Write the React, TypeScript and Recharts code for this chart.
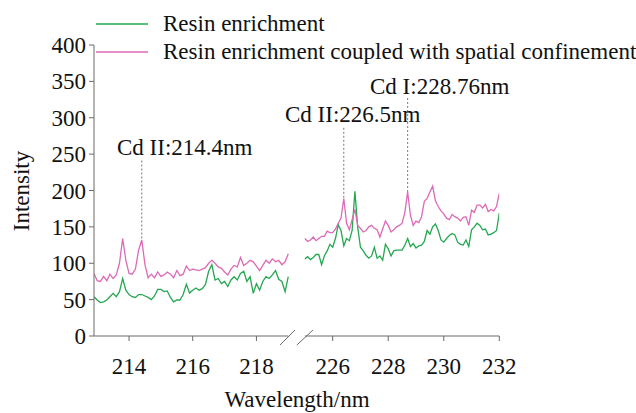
import React from 'react';
import { LineChart, Line, XAxis, YAxis, ReferenceLine } from 'recharts';

// wavelength grid (nm): spectrometer sampling
const leftStart = 212.9;
const rightStart = 225.0;
const stepNm = 0.1;

// Resin enrichment (green)
const greenLeft = [
  54, 49.5, 46, 47, 49.5, 54, 58.6, 54, 61, 79, 63, 57, 54, 53, 57, 57, 55, 53, 50, 55,
  64, 64, 61, 62, 53, 47, 49.5, 49.5, 57, 71, 59, 63, 66, 63, 65, 71, 89, 98, 77, 79,
  72, 75, 68, 77, 81.5, 77, 86, 89, 75, 81.5, 58.6, 72, 63, 75, 81.5, 79, 84, 90, 78, 75,
  61, 81.5,
];
const greenRight = [
  106, 109, 105, 108, 112, 112, 98, 110, 117, 126,
  122, 134, 153, 145, 124, 134, 131, 145, 199, 150,
  122, 117, 111, 107, 110, 122, 107, 110, 104, 126,
  120, 110, 117, 118, 118, 118, 125, 134, 123, 127,
  121, 124, 125, 130, 145, 140, 150, 154, 145, 132,
  129, 134, 138, 141, 139, 129, 126, 125, 132, 123,
  146, 150, 155, 152, 146, 147, 139, 140, 142, 145,
  169,
];
// Resin enrichment coupled with spatial confinement (pink)
const pinkLeft = [
  86, 76, 75, 82, 76, 85, 79, 84, 100, 134, 104, 86, 85, 92, 118, 132, 98, 80, 85, 80,
  88, 82, 84, 88, 85, 80, 90, 83, 85, 96, 90, 92, 91, 90, 92, 94, 100, 104, 100, 95,
  93, 88, 84, 92, 97, 95, 108, 97, 100, 104, 102, 96, 90, 97, 104, 100, 106, 102, 104, 98,
  102, 113,
];
const pinkRight = [
  134, 130, 132, 136, 131, 134, 137, 137, 144, 142,
  142, 147, 155, 162, 189, 155, 146, 160, 174, 152,
  148, 143, 145, 150, 152, 148, 146, 136, 147, 158,
  152, 143, 146, 150, 152, 155, 170, 198, 166, 152,
  158, 156, 164, 185, 189, 198, 206, 186, 178, 172,
  168, 162, 160, 167, 164, 162, 158, 163, 164, 152,
  173, 170, 180, 180, 176, 181, 171, 174, 172, 178,
  196,
];

const leftTicks = [214, 216, 218];
const rightTicks = [226, 228, 230, 232];
const yTicks = [0, 50, 100, 150, 200, 250, 300, 350, 400];
const seriesNames = ['Resin enrichment', 'Resin enrichment coupled with spatial confinement'];
const peakLabels = ['Cd II:214.4nm', 'Cd II:226.5nm', 'Cd I:228.76nm'];
const peakLines = [214.4, 226.4, 228.7];

const GREEN = '#24a750';
const PINK = '#dc6ab7';
const AXIS = '#6a6a6a';
const FONT = 'Liberation Serif';
const FS = 23;

const toRows = (start: number, green: number[], pink: number[]) =>
  green.map((g, i) => ({ w: Math.round((start + i * stepNm) * 100) / 100, g, p: pink[i] }));

const leftRows = toRows(leftStart, greenLeft, pinkLeft);
const rightRows = toRows(rightStart, greenRight, pinkRight);

// axis domains chosen so both broken-axis segments share one plot area
const leftDomain: [number, number] = [212.9, 225.626];
const rightDomain: [number, number] = [217.405, 232];

const textStyle: React.CSSProperties = {
  position: 'absolute', fontFamily: FONT, fontSize: FS, color: '#111', whiteSpace: 'nowrap', lineHeight: '28px',
};

const XTick = (props: any) => {
  const { x, y, payload } = props;
  return (
    <text x={x} y={y} dy={16} textAnchor="middle" fill="#111" style={{ fontFamily: FONT, fontSize: FS }}>
      {payload.value}
    </text>
  );
};

const YTick = (props: any) => {
  const { x, y, payload } = props;
  return (
    <text x={x} y={y} dy={8} textAnchor="end" fill="#111" style={{ fontFamily: FONT, fontSize: FS }}>
      {payload.value}
    </text>
  );
};

const LegendBlock = () => (
  <div style={{ position: 'absolute', left: 96, top: 10 }}>
    {[GREEN, PINK].map((c, i) => (
      <div key={i} style={{ display: 'flex', alignItems: 'center', height: 28, fontFamily: FONT, fontSize: FS, color: '#111', whiteSpace: 'nowrap' }}>
        <svg width={52} height={4} style={{ marginRight: 15, flex: 'none' }}>
          <line x1={0} y1={2} x2={52} y2={2} stroke={c} strokeWidth={1.5} />
        </svg>
        <span>{seriesNames[i]}</span>
      </div>
    ))}
  </div>
);

const AX_H = 0.01;

export default function App() {
  return (
    <div style={{ position: 'absolute', left: 0, top: 0, width: 636, height: 413, background: '#fff', fontFamily: FONT }}>
      <LineChart width={636} height={413} margin={{ top: 45, right: 136.7, bottom: 77 - 2 * AX_H, left: 0 }}>
        <XAxis
          xAxisId="L"
          type="number"
          dataKey="w"
          domain={leftDomain}
          allowDataOverflow
          ticks={leftTicks}
          axisLine={false}
          tickLine={{ stroke: AXIS }}
          tickSize={5}
          tickMargin={17}
          tick={<XTick />}
          height={AX_H}
          interval={0}
        />
        <XAxis
          xAxisId="R"
          type="number"
          dataKey="w"
          domain={rightDomain}
          allowDataOverflow
          ticks={rightTicks}
          axisLine={false}
          tickLine={{ stroke: AXIS }}
          tickSize={5}
          tickMargin={17}
          tick={<XTick />}
          height={AX_H}
          interval={0}
        />
        <YAxis
          type="number"
          domain={[0, 400]}
          ticks={yTicks}
          width={94}
          axisLine={{ stroke: AXIS }}
          tickLine={{ stroke: AXIS }}
          tickSize={5}
          tickMargin={3}
          tick={<YTick />}
          interval={0}
        />
        {/* broken x axis line */}
        <ReferenceLine xAxisId="L" segment={[{ x: 212.9, y: 0 }, { x: 219.0, y: 0 }]} stroke={AXIS} ifOverflow="visible" />
        <ReferenceLine xAxisId="R" segment={[{ x: 225.0, y: 0 }, { x: 232.0, y: 0 }]} stroke={AXIS} ifOverflow="visible" />
        <ReferenceLine xAxisId="L" segment={[{ x: 218.74, y: -12.4 }, { x: 219.21, y: 8.2 }]} stroke={AXIS} ifOverflow="visible" />
        <ReferenceLine xAxisId="R" segment={[{ x: 224.71, y: -12.4 }, { x: 225.29, y: 8.2 }]} stroke={AXIS} ifOverflow="visible" />
        {/* peak markers */}
        <ReferenceLine xAxisId="L" segment={[{ x: peakLines[0], y: 134 }, { x: peakLines[0], y: 244 }]} stroke="#777" strokeDasharray="2 2" ifOverflow="visible" />
        <ReferenceLine xAxisId="R" segment={[{ x: peakLines[1], y: 190 }, { x: peakLines[1], y: 287 }]} stroke="#777" strokeDasharray="2 2" ifOverflow="visible" />
        <ReferenceLine xAxisId="R" segment={[{ x: peakLines[2], y: 198 }, { x: peakLines[2], y: 328 }]} stroke="#777" strokeDasharray="2 2" ifOverflow="visible" />

        <Line xAxisId="L" data={leftRows} dataKey="g" name={seriesNames[0]} stroke={GREEN} strokeWidth={1.3} dot={false} isAnimationActive={false} />
        <Line xAxisId="L" data={leftRows} dataKey="p" name={seriesNames[1]} stroke={PINK} strokeWidth={1.3} dot={false} isAnimationActive={false} />
        <Line xAxisId="R" data={rightRows} dataKey="g" stroke={GREEN} strokeWidth={1.3} dot={false} isAnimationActive={false} />
        <Line xAxisId="R" data={rightRows} dataKey="p" stroke={PINK} strokeWidth={1.3} dot={false} isAnimationActive={false} />
      </LineChart>
      <LegendBlock />
      {/* annotation and axis titles */}
      <div style={{ ...textStyle, left: 117, top: 134 }}>{peakLabels[0]}</div>
      <div style={{ ...textStyle, left: 285, top: 101 }}>{peakLabels[1]}</div>
      <div style={{ ...textStyle, left: 370, top: 73 }}>{peakLabels[2]}</div>
      <div style={{ ...textStyle, left: 197, top: 386, width: 200, textAlign: 'center' }}>Wavelength/nm</div>
      <div style={{ position: 'absolute', left: 22, top: 191, width: 0, height: 0 }}>
        <div style={{ ...textStyle, left: -60, top: -14, width: 120, textAlign: 'center', transform: 'rotate(-90deg)' }}>Intensity</div>
      </div>
    </div>
  );
}
